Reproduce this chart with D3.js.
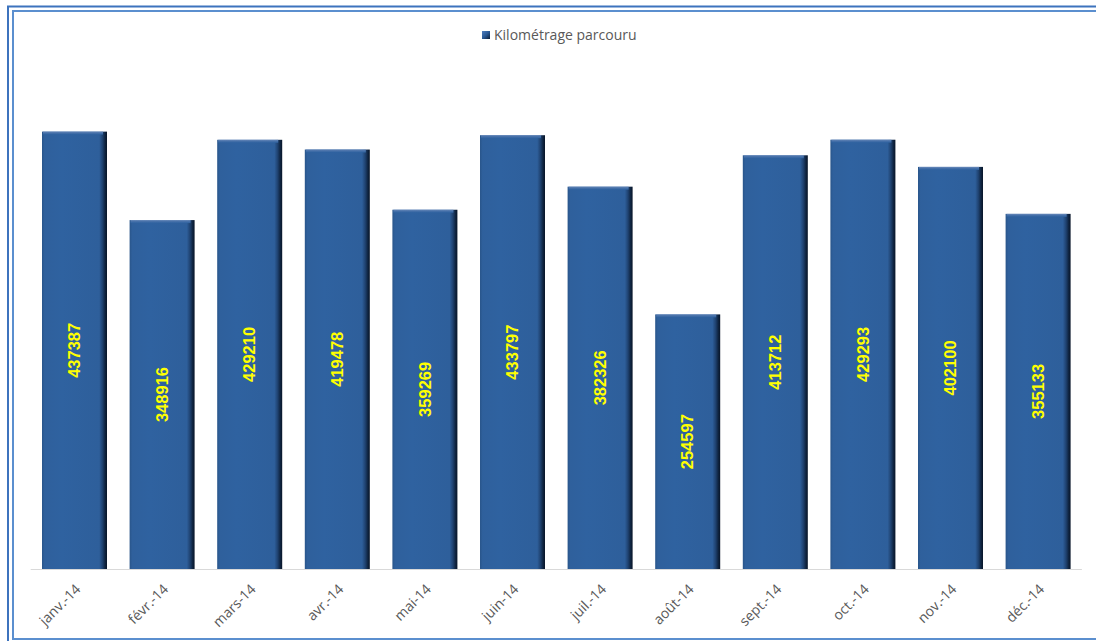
<!DOCTYPE html>
<html><head><meta charset="utf-8">
<script src="https://cdn.jsdelivr.net/npm/d3@7"></script>
<style>html,body{margin:0;padding:0;background:#fff;overflow:hidden}</style>
</head><body>
<svg id="chart" width="1096" height="641"></svg>
<script>
const categories = ["janv.-14","févr.-14","mars-14","avr.-14","mai-14","juin-14","juil.-14","août-14","sept.-14","oct.-14","nov.-14","déc.-14"];
const values = [437387,348916,429210,419478,359269,433797,382326,254597,413712,429293,402100,355133];
const seriesName = "Kilométrage parcouru";

const svg = d3.select("#chart");
const defs = svg.append("defs");

// bar gradients
const gH = defs.append("linearGradient").attr("id","barH").attr("x1","0").attr("x2","1").attr("y1","0").attr("y2","0");
[[0,"#29558a"],[0.04,"#2f609c"],[0.3,"#2f62a0"],[0.88,"#2e5f9b"],[0.93,"#1f4270"],[0.97,"#0f2440"],[1,"#081528"]]
  .forEach(s=>gH.append("stop").attr("offset",s[0]).attr("stop-color",s[1]));
const gT = defs.append("linearGradient").attr("id","barT").attr("x1","0").attr("x2","0").attr("y1","0").attr("y2","1");
[[0,"#6f8fbf"],[0.35,"#4c74ab"],[1,"#2f62a0"]]
  .forEach(s=>gT.append("stop").attr("offset",s[0]).attr("stop-color",s[1]));
const gL = defs.append("linearGradient").attr("id","leg").attr("x1","0").attr("x2","1").attr("y1","0").attr("y2","1");
[[0,"#4f7fbf"],[0.5,"#2a5a96"],[1,"#0d1e36"]]
  .forEach(s=>gL.append("stop").attr("offset",s[0]).attr("stop-color",s[1]));

// frame
svg.append("rect").attr("x",8).attr("y",6.5).attr("width",1200).attr("height",700)
  .attr("fill","none").attr("stroke","#3d73bd").attr("stroke-width",2);
svg.append("rect").attr("x",13).attr("y",11).attr("width",1200).attr("height",628)
  .attr("fill","none").attr("stroke","#5b8fcf").attr("stroke-width",2);

const x = d3.scaleBand().domain(categories).range([30.7,1081.9]).paddingInner(0.258).paddingOuter(0.129);
const y = d3.scaleLinear().domain([0,450000]).range([569,119]);

// baseline
svg.append("line").attr("x1",30.7).attr("x2",1081.9).attr("y1",569.5).attr("y2",569.5)
  .attr("stroke","#d9d9d9").attr("stroke-width",1);

const bars = svg.append("g").selectAll("g").data(categories).join("g");
bars.append("rect")
  .attr("x",d=>x(d)).attr("width",x.bandwidth())
  .attr("y",(d,i)=>y(values[i])).attr("height",(d,i)=>y(0)-y(values[i]))
  .attr("fill","url(#barH)");
bars.append("rect")
  .attr("x",d=>x(d)+1).attr("width",x.bandwidth()-5)
  .attr("y",(d,i)=>y(values[i])).attr("height",3)
  .attr("fill","url(#barT)");

// value labels
bars.append("text")
  .attr("transform",(d,i)=>`translate(${x(d)+x.bandwidth()/2},${(y(values[i])+y(0))/2}) rotate(-90)`)
  .attr("text-anchor","middle").attr("dy","0.35em")
  .attr("font-family","'Liberation Sans Narrow','Arial Narrow','Liberation Sans',sans-serif")
  .attr("font-weight","bold").attr("font-size",16.5)
  .attr("fill","#ffff00")
  .text((d,i)=>values[i]);

// category labels
svg.append("g").selectAll("text").data(categories).join("text")
  .attr("transform",d=>`translate(${x(d)+x.bandwidth()/2+7},${590}) rotate(-45)`)
  .attr("text-anchor","end")
  .attr("font-family","'Open Sans',sans-serif").attr("font-size",14)
  .attr("fill","#595959")
  .text(d=>d);

// legend
const lg = svg.append("g").attr("transform","translate(482,31)");
lg.append("rect").attr("width",8).attr("height",8).attr("fill","url(#leg)");
lg.append("text").attr("x",12).attr("y",9)
  .attr("font-family","'Open Sans',sans-serif").attr("font-size",14)
  .attr("fill","#595959").text(seriesName);
</script>
</body></html>
